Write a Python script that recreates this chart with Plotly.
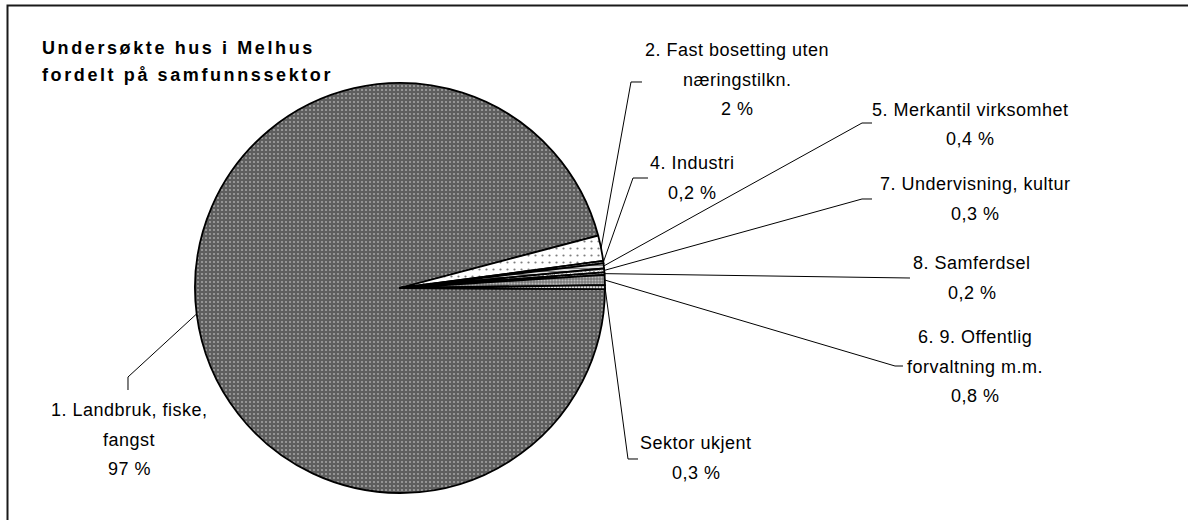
import math
import plotly.graph_objects as go

# ---------------- data ----------------
categories = [
    "1. Landbruk, fiske, fangst",
    "2. Fast bosetting uten næringstilkn.",
    "4. Industri",
    "5. Merkantil virksomhet",
    "7. Undervisning, kultur",
    "8. Samferdsel",
    "6. 9. Offentlig forvaltning m.m.",
    "Sektor ukjent",
]
values = [95.8, 2.0, 0.2, 0.4, 0.3, 0.2, 0.8, 0.3]
pct_labels = ["97 %", "2 %", "0,2 %", "0,4 %", "0,3 %", "0,2 %", "0,8 %", "0,3 %"]
label_lines = [
    ["1. Landbruk, fiske,", "fangst"],
    ["2. Fast bosetting uten", "næringstilkn."],
    ["4. Industri"],
    ["5. Merkantil virksomhet"],
    ["7. Undervisning, kultur"],
    ["8. Samferdsel"],
    ["6. 9. Offentlig", "forvaltning m.m."],
    ["Sektor ukjent"],
]
title_lines = ["Undersøkte hus i Melhus", "fordelt på samfunnssektor"]

# ---------------- layout constants ----------------
W, H = 1188, 520
CX, CY, R = 400, 288, 205
ROTATION = 90.3
FONT = "Liberation Sans, Arial, sans-serif"
LINE_STEP = 29.5

# label anchor (center x, y of first line) and leader elbow / end points (pixels)
label_pos = [(129, 410), (737, 50), (692, 163), (970, 110),
             (975, 184), (972, 263), (975, 337), (696, 443)]
leader_pts = [
    [(128, 377), (128, 390)],
    [(631, 82), (642, 82)],
    [(633, 178), (648, 178)],
    [(862, 123), (872, 123)],
    [(862, 199), (872, 199)],
    [(910, 278)],
    [(895, 366), (903, 366)],
    [(628, 459), (638, 459)],
]


def px(x):
    return x / W


def py(y):
    return 1 - y / H


fig = go.Figure()
fig.add_trace(go.Pie(
    labels=categories,
    values=values,
    sort=False,
    direction="clockwise",
    rotation=ROTATION,
    textinfo="none",
    hoverinfo="label+percent",
    showlegend=False,
    domain=dict(x=[px(CX - R), px(CX + R)], y=[py(CY + R), py(CY - R)]),
    marker=dict(
        colors=["#5e5e5e", "white", "white", "white", "white", "white", "#7a7a7a", "white"],
        line=dict(color="black", width=1.8),
        pattern=dict(
            fillmode="overlay",
            shape=[".", ".", ".", "-", "x", "+", ".", "|"],
            fgcolor=["#e6e6e6", "black", "black", "black", "black", "black", "white", "black"],
            size=[4, 7, 3, 3, 3, 3, 3, 3],
            solidity=[0.22, 0.08, 0.5, 0.5, 0.4, 0.4, 0.4, 0.5],
        ),
    ),
))

total = sum(values)
cum = 0.0
shapes = []
annotations = []
for i, v in enumerate(values):
    mid = (cum + v / 2) / total
    cum += v
    th = math.radians(ROTATION + 360 * mid)
    sx = CX + R * math.sin(th)
    sy = CY - R * math.cos(th)
    pts = [(sx, sy)] + leader_pts[i]
    path = "M " + " L ".join(f"{px(x):.5f},{py(y):.5f}" for x, y in pts)
    shapes.append(dict(type="path", xref="paper", yref="paper", path=path,
                       line=dict(color="black", width=1)))
    lx, ly = label_pos[i]
    lines = label_lines[i] + [pct_labels[i]]
    for k, t in enumerate(lines):
        annotations.append(dict(
            x=px(lx), y=py(ly + k * LINE_STEP), xref="paper", yref="paper",
            text=f"<span style='letter-spacing:0.5px'>{t}</span>",
            showarrow=False, xanchor="center", yanchor="middle",
            font=dict(family=FONT, size=18, color="black"),
        ))

for k, t in enumerate(title_lines):
    annotations.append(dict(
        x=px(40), y=py(48 + k * 27), xref="paper", yref="paper",
        text=f"<b><span style='letter-spacing:2.6px'>{t}</span></b>",
        showarrow=False, xanchor="left", yanchor="middle",
        font=dict(family=FONT, size=18, color="black"),
    ))

# chart frame (top and left edges visible)
shapes.append(dict(type="path", xref="paper", yref="paper",
                   path=f"M {px(7.5)},{py(520)} L {px(7.5)},{py(5.5)} L {px(1188)},{py(5.5)}",
                   line=dict(color="#1a1a1a", width=2)))

fig.update_layout(
    width=W, height=H,
    margin=dict(l=0, r=0, t=0, b=0),
    paper_bgcolor="white",
    plot_bgcolor="white",
    shapes=shapes,
    annotations=annotations,
    font=dict(family=FONT),
)

fig.write_html(
    "out.html",
    config={"displayModeBar": False},
    post_script=("document.body.style.margin='0px';"
                 "document.body.style.overflow='hidden';"
                 "document.documentElement.style.overflow='hidden';"),
)
